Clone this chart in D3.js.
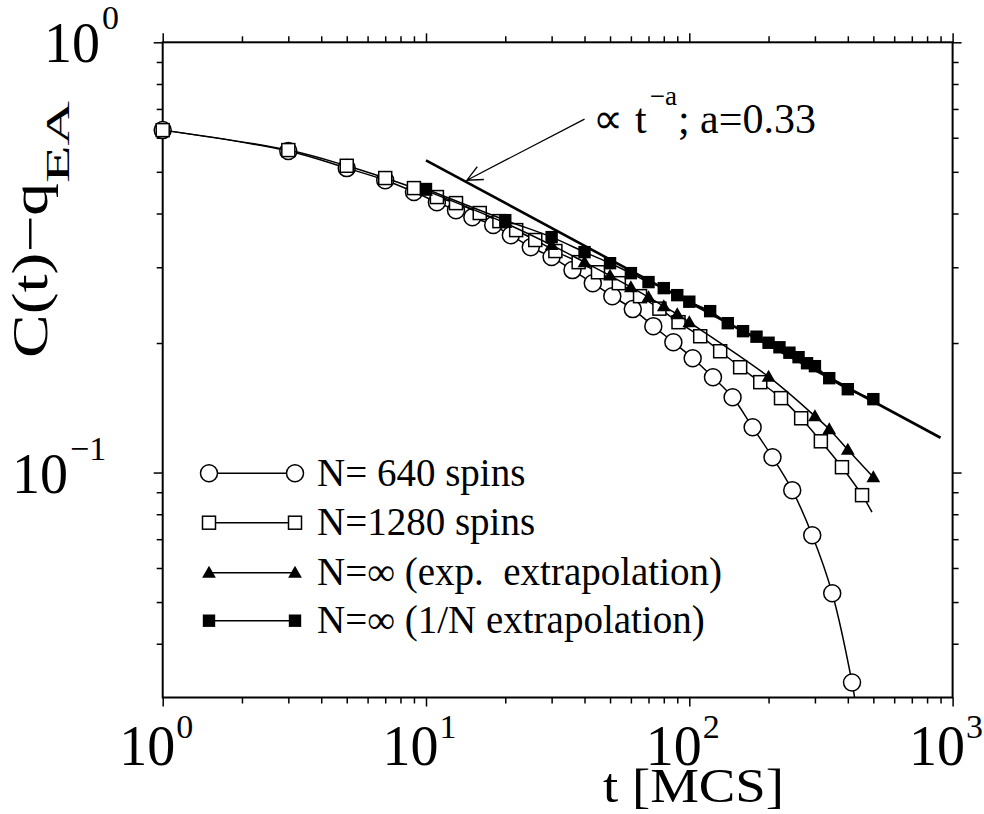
<!DOCTYPE html>
<html>
<head>
<meta charset="utf-8">
<script src="https://cdn.jsdelivr.net/npm/d3@7"></script>
<style>
  html, body { margin: 0; padding: 0; background: #fff; }
  svg { display: block; }
</style>
</head>
<body>
<svg id="chart" width="984" height="814"></svg>
<script>
// Autocorrelation decay C(t) - q_EA versus Monte Carlo time

// N = 640 spins
const tCirc = [1, 3, 5, 7, 9, 11, 13, 15, 18, 21, 25, 30, 36, 43, 51, 61, 73, 87, 103, 123, 146, 174, 207, 246, 293, 349, 415];
const vCirc = [0.625, 0.559, 0.510, 0.478, 0.449, 0.425, 0.407, 0.392, 0.376, 0.356, 0.334, 0.3168, 0.2955, 0.2755, 0.2570, 0.2398, 0.2189, 0.2009, 0.1844, 0.1665, 0.1496, 0.1274, 0.1085, 0.0910, 0.0715, 0.0524, 0.0325];
const tailCirc = [428, 0.029];

// N = 1280 spins
const tSq = [1, 3, 5, 7, 9, 11, 13, 16, 19, 22, 26, 31, 38, 45, 54, 65, 77, 91, 110, 131, 156, 186, 223, 266, 316, 380, 453];
const vSq = [0.625, 0.5617, 0.5164, 0.4836, 0.4583, 0.4368, 0.4229, 0.4010, 0.3840, 0.3660, 0.3471, 0.3272, 0.3083, 0.2921, 0.2755, 0.2570, 0.2404, 0.2236, 0.2074, 0.1914, 0.1757, 0.1622, 0.1489, 0.1337, 0.1182, 0.1029, 0.0886];
const tailSq = [494, 0.0809];

// N = infinity, exponential extrapolation
const tTri = [10, 20, 30, 40, 50, 60, 70, 80, 90, 100, 200, 300, 340, 400, 500];
const vTri = [0.452, 0.380, 0.3378, 0.3083, 0.2869, 0.2697, 0.2557, 0.2435, 0.2334, 0.2236, 0.1670, 0.1352, 0.1261, 0.1130, 0.0975];

// N = infinity, 1/N extrapolation
const tFsq = [10, 20, 30, 40, 50, 60, 70, 80, 90, 100, 120, 140, 160, 180, 200, 220, 240, 260, 280, 300, 340, 400, 500];
const vFsq = [0.456, 0.386, 0.3525, 0.3253, 0.3066, 0.2907, 0.2771, 0.2683, 0.2584, 0.2495, 0.2372, 0.2224, 0.2131, 0.2069, 0.2003, 0.1955, 0.1899, 0.1854, 0.1795, 0.1767, 0.1657, 0.1562, 0.1481];

// power law guide  A * t^-a
const powAmp = 1.137;
const powExp = 0.33;
const powRange = [10, 900];
const arrowFrom = [40, 0.663];
const arrowTo = [14.3, 0.478];

const legendLabels = ["N= 640 spins", "N=1280 spins", "N=\u221E (exp.  extrapolation)", "N=\u221E (1/N extrapolation)"];
const xMajor = [1, 10, 100, 1000];
const xExp = ["0", "1", "2", "3"];
const yMajor = [1, 0.1];
const yExp = ["0", "\u22121"];

// ---- layout ----
const FONT = "'Times New Roman', 'Liberation Serif', Tinos, Times, serif";
const L = 162.7, R = 952.6, T = 42.3, B = 697.5;
const svg = d3.select("#chart");
const x = d3.scaleLog().domain([1, 1000]).range([L, R]);
const y = d3.scaleLog().domain([0.03, 1]).range([B, T]);

svg.append("defs").append("clipPath").attr("id", "plotclip")
  .append("rect").attr("x", L).attr("y", T).attr("width", R - L).attr("height", B - T);

function txt(sel) {
  return sel.append("text").attr("font-family", FONT).attr("fill", "#000");
}

// minor tick values
const xMinor = [];
for (const d of [1, 10, 100]) for (let k = 2; k <= 9; k++) xMinor.push(d * k);
const yMinor = [];
for (let k = 4; k <= 9; k++) yMinor.push(k / 100);
for (let k = 2; k <= 9; k++) yMinor.push(k / 10);

function tickAxis(axisFn, scale, values, size, transform) {
  const g = svg.append("g").attr("transform", transform)
    .call(axisFn(scale).tickValues(values).tickSize(size).tickFormat(""));
  g.select(".domain").remove();
  g.selectAll(".tick line").attr("stroke", "#000").attr("stroke-width", 1.5);
}
tickAxis(d3.axisBottom, x, xMinor, 6, `translate(0,${B})`);
tickAxis(d3.axisBottom, x, xMajor, 9, `translate(0,${B})`);
tickAxis(d3.axisTop, x, xMinor, 6, `translate(0,${T})`);
tickAxis(d3.axisTop, x, xMajor, 9, `translate(0,${T})`);
tickAxis(d3.axisLeft, y, yMinor, 6, `translate(${L},0)`);
tickAxis(d3.axisLeft, y, yMajor, 9, `translate(${L},0)`);
tickAxis(d3.axisRight, y, yMinor, 6, `translate(${R},0)`);
tickAxis(d3.axisRight, y, yMajor, 9, `translate(${R},0)`);

svg.append("rect").attr("x", L).attr("y", T).attr("width", R - L).attr("height", B - T)
  .attr("fill", "none").attr("stroke", "#000").attr("stroke-width", 2);

// tick labels
xMajor.forEach((v, i) => {
  const t = txt(svg).attr("x", x(v) - 43.5).attr("y", B + 67).attr("font-size", 56);
  t.append("tspan").text("10");
  t.append("tspan").attr("dx", 1).attr("dy", -27).attr("font-size", 34).text(xExp[i]);
});
const yLabelX = [44, 12];
yMajor.forEach((v, i) => {
  const t = txt(svg).attr("x", yLabelX[i]).attr("y", y(v) + 20).attr("font-size", 56);
  t.append("tspan").text("10");
  t.append("tspan").attr("dx", 2).attr("dy", -33).attr("font-size", 34).text(yExp[i]);
});

// axis titles
txt(svg).attr("x", 603).attr("y", 802).attr("font-size", 48)
  .attr("textLength", 181).attr("lengthAdjust", "spacingAndGlyphs")
  .style("white-space", "pre").text("t [MCS]");
txt(svg).attr("transform", "translate(47,358) rotate(-90)").attr("font-size", 50)
  .attr("textLength", 175).attr("lengthAdjust", "spacingAndGlyphs").text("C(t)\u2212q");
txt(svg).attr("transform", "translate(69,183) rotate(-90)").attr("font-size", 33)
  .attr("textLength", 82).attr("lengthAdjust", "spacingAndGlyphs").text("EA");

// series
const line = d3.line().x(d => x(d[0])).y(d => y(d[1])).curve(d3.curveCatmullRom.alpha(0.5));
const zip = (ts, vs) => ts.map((t, i) => [t, vs[i]]);

function drawMarker(g, type, px, py) {
  if (type === "circle") {
    g.append("circle").attr("cx", px).attr("cy", py).attr("r", 8.5)
      .attr("fill", "#fff").attr("stroke", "#000").attr("stroke-width", 1.5);
  } else if (type === "square") {
    g.append("rect").attr("x", px - 6.5).attr("y", py - 6.5).attr("width", 13).attr("height", 13)
      .attr("fill", "#fff").attr("stroke", "#000").attr("stroke-width", 1.5);
  } else if (type === "triangle") {
    g.append("path").attr("d", d3.symbol(d3.symbolTriangle, 82)())
      .attr("transform", `translate(${px},${py + 1})`).attr("fill", "#000");
  } else {
    g.append("rect").attr("x", px - 6.2).attr("y", py - 6.2).attr("width", 12.4).attr("height", 12.4)
      .attr("fill", "#000");
  }
}

const series = [
  { pts: zip(tCirc, vCirc), tail: tailCirc, type: "circle" },
  { pts: zip(tSq, vSq), tail: tailSq, type: "square" },
  { pts: zip(tTri, vTri), tail: null, type: "triangle" },
  { pts: zip(tFsq, vFsq), tail: null, type: "fsquare" }
];

series.forEach(s => {
  const lp = s.tail ? s.pts.concat([s.tail]) : s.pts;
  svg.append("path").attr("d", line(lp)).attr("fill", "none")
    .attr("clip-path", "url(#plotclip)")
    .attr("stroke", "#000").attr("stroke-width", 1.5);
  const mg = svg.append("g");
  s.pts.forEach(p => drawMarker(mg, s.type, x(p[0]), y(p[1])));
});

// power law guide line
const powPts = powRange.map(t => [t, powAmp * Math.pow(t, -powExp)]);
svg.append("line")
  .attr("x1", x(powPts[0][0])).attr("y1", y(powPts[0][1]))
  .attr("x2", x(powPts[1][0])).attr("y2", y(powPts[1][1]))
  .attr("stroke", "#000").attr("stroke-width", 2.6);

// annotation arrow
const ax0 = x(arrowFrom[0]), ay0 = y(arrowFrom[1]);
const ax1 = x(arrowTo[0]), ay1 = y(arrowTo[1]);
const ang = Math.atan2(ay0 - ay1, ax0 - ax1);
const hl = 17, ha = 25 * Math.PI / 180;
svg.append("path")
  .attr("d", `M${ax0},${ay0}L${ax1},${ay1}` +
    `M${ax1 + hl * Math.cos(ang - ha)},${ay1 + hl * Math.sin(ang - ha)}L${ax1},${ay1}` +
    `L${ax1 + hl * Math.cos(ang + ha)},${ay1 + hl * Math.sin(ang + ha)}`)
  .attr("fill", "none").attr("stroke", "#000").attr("stroke-width", 1.3);

const ann = txt(svg).attr("x", ax0 + 8).attr("y", ay0 + 14).attr("font-size", 42)
  .style("white-space", "pre");
ann.append("tspan").text("\u221D");
ann.append("tspan").attr("dx", 2).text(" t");
ann.append("tspan").attr("dx", 3).attr("dy", -28).attr("font-size", 27).text("\u2212a");
ann.append("tspan").attr("dx", 1).attr("dy", 28).text("; a=0.33");

// legend
const legRowY = [473.3, 522.7, 572.7, 620.7];
const legX0 = 209, legX1 = 295, legTextX = 317;
const lg = svg.append("g");
series.forEach((s, i) => {
  const ry = legRowY[i];
  lg.append("line").attr("x1", legX0).attr("x2", legX1).attr("y1", ry).attr("y2", ry)
    .attr("stroke", "#000").attr("stroke-width", 1.5);
  drawMarker(lg, s.type, legX0, ry);
  drawMarker(lg, s.type, legX1, ry);
  txt(lg).attr("x", legTextX).attr("y", ry + 12.5).attr("font-size", 39)
    .style("white-space", "pre").text(legendLabels[i]);
});
</script>
</body>
</html>
